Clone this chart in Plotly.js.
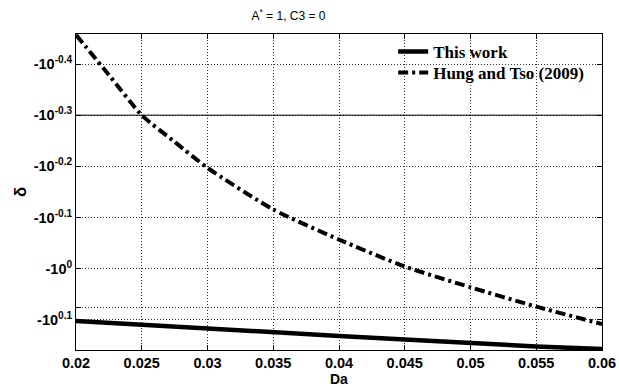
<!DOCTYPE html>
<html>
<head>
<meta charset="utf-8">
<script src="https://cdn.plot.ly/plotly-3.0.1.min.js"></script>
<style>
  html, body { margin: 0; padding: 0; background: #fff; }
  #chart { width: 619px; height: 387px; }
</style>
</head>
<body>
<div id="chart"></div>
<script>
// Damkohler number vs. growth rate delta (negative values, log-magnitude scale)
const daThisWork    = [0.02, 0.025, 0.03, 0.035, 0.04, 0.045, 0.05, 0.055, 0.06];
const deltaThisWork = [-1.265, -1.288, -1.308, -1.331, -1.353, -1.375, -1.400, -1.419, -1.435];

const daHungTso    = [0.02, 0.0225, 0.025, 0.0275, 0.03, 0.035, 0.04, 0.045, 0.05, 0.055, 0.06];
const deltaHungTso = [-0.349, -0.418, -0.501, -0.565, -0.635, -0.766, -0.877, -0.990, -1.087, -1.186, -1.282];

// solid reference level at -10^-0.3
const refDa    = [0.02, 0.06];
const refDelta = [-0.501, -0.501];

const yTickExponents = [-0.4, -0.3, -0.2, -0.1, 0, 0.0765, 0.1];
const yTickLabels = ['-10<sup>-0.4</sup>', '-10<sup>-0.3</sup>', '-10<sup>-0.2</sup>',
                     '-10<sup>-0.1</sup>', '-10<sup>0</sup>', '', '-10<sup>0.1</sup>'];
const xTickVals   = [0.02, 0.025, 0.03, 0.035, 0.04, 0.045, 0.05, 0.055, 0.06];
const xTickLabels = ['0.02', '0.025', '0.03', '0.035', '0.04', '0.045', '0.05', '0.055', '0.06'];

const mag = arr => arr.map(d => -d);   // axis is drawn on |delta|, labelled as negatives

const sans = 'Liberation Sans, Arial, sans-serif';
const serif = 'Liberation Serif, Times New Roman, serif';

const traces = [
  {
    x: refDa, y: mag(refDelta), mode: 'lines', showlegend: false, hoverinfo: 'skip',
    line: { color: '#000', width: 1 }
  },
  {
    x: daThisWork, y: mag(deltaThisWork), mode: 'lines', name: 'This work',
    legend: 'legend',
    line: { color: '#000', width: 4.5 }
  },
  {
    x: daHungTso, y: mag(deltaHungTso), mode: 'lines', name: 'Hung and Tso (2009)',
    legend: 'legend2',
    line: { color: '#000', width: 4, dash: '10px,4px,3px,4px', shape: 'spline', smoothing: 0.6 }
  }
];

const axisCommon = {
  showline: true, linecolor: '#000', linewidth: 1, mirror: 'ticks',
  ticks: 'inside', ticklen: 5, tickcolor: '#000', tickwidth: 1,
  showgrid: true, gridcolor: '#333', gridwidth: 1, griddash: '1px,2px',
  zeroline: false,
  tickfont: { family: sans, size: 14.5, color: '#000', weight: 'bold' }
};

const legendCommon = {
  x: 0.603, xanchor: 'left', yanchor: 'middle',
  bgcolor: 'rgba(0,0,0,0)', borderwidth: 0,
  font: { family: serif, size: 17, color: '#000', weight: 'bold' },
  itemwidth: 30
};

const layout = {
  width: 619, height: 387,
  margin: { l: 76, r: 17, t: 34, b: 37 },
  paper_bgcolor: '#fff', plot_bgcolor: '#fff',
  title: {
    text: 'A<sup>*</sup> = 1, C3 = 0',
    font: { family: sans, size: 12, color: '#000' },
    xref: 'paper', x: 0.404, xanchor: 'center',
    yref: 'container', y: 0.958, yanchor: 'middle'
  },
  xaxis: Object.assign({}, axisCommon, {
    range: [0.02, 0.06],
    tickmode: 'array', tickvals: xTickVals, ticktext: xTickLabels
  }),
  yaxis: Object.assign({}, axisCommon, {
    type: 'log',
    range: [0.1588, -0.4588],
    tickmode: 'array',
    tickvals: yTickExponents.map(e => Math.pow(10, e)),
    ticktext: yTickLabels
  }),
  annotations: [
    { text: 'Da', xref: 'paper', yref: 'paper', x: 0.5, y: -0.092,
      xanchor: 'center', yanchor: 'middle', showarrow: false,
      font: { family: sans, size: 14, color: '#000', weight: 'bold' } },
    { text: 'δ', xref: 'paper', yref: 'paper', x: -0.1065, y: 0.5, textangle: -90,
      xanchor: 'center', yanchor: 'middle', showarrow: false,
      font: { family: sans, size: 17, color: '#000', weight: 'bold' } }
  ],
  legend: Object.assign({}, legendCommon, { y: 0.943 }),
  legend2: Object.assign({}, legendCommon, { y: 0.877 }),
  shapes: [
    // blank panel behind the legend
    { type: 'rect', xref: 'paper', yref: 'paper', x0: 0.489, x1: 1, y0: 0.835, y1: 1,
      fillcolor: '#fff', line: { width: 0 }, layer: 'between' }
  ],
  showlegend: true
};

Plotly.newPlot('chart', traces, layout, { displayModeBar: false, staticPlot: true });
</script>
</body>
</html>
